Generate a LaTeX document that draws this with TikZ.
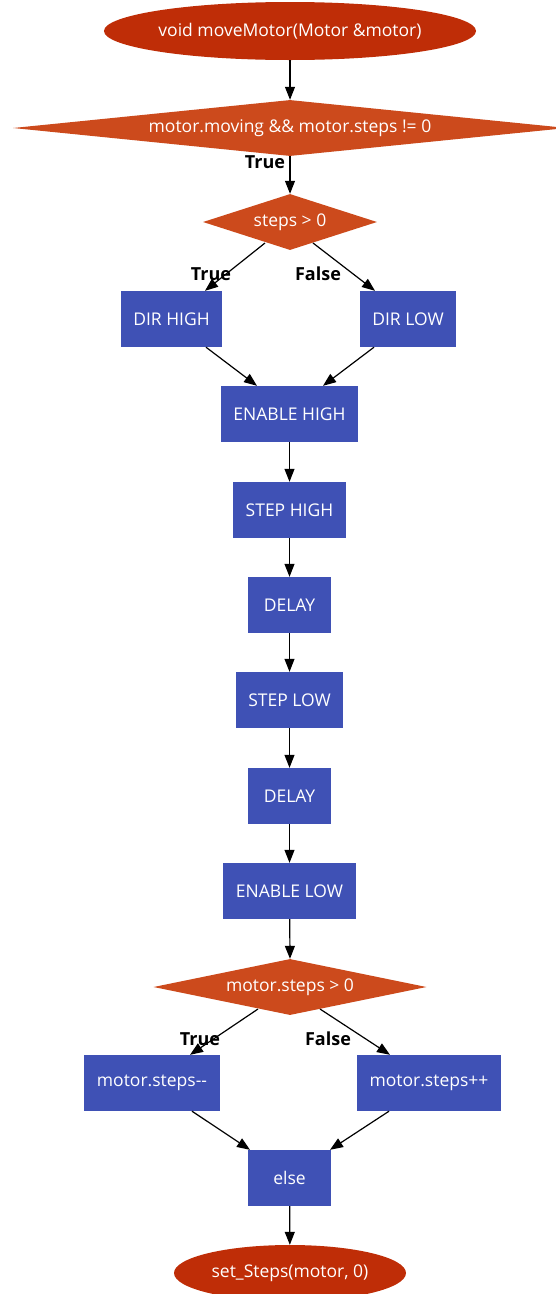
\documentclass[tikz,border=0pt]{standalone}
\usepackage{fontspec}
\setmainfont{Open Sans}
\usetikzlibrary{shapes.geometric,arrows.meta,calc}
\definecolor{termc}{HTML}{BF2D07}
\definecolor{decc}{HTML}{CC4A1C}
\definecolor{boxc}{HTML}{3F51B5}
\tikzset{
  term/.style={ellipse,fill=termc,draw=none,text=white,inner sep=0pt,font=\fontsize{17.5}{20}\selectfont},
  dec/.style={diamond,fill=decc,draw=none,inner sep=0pt},
  dectext/.style={text=white,font=\fontsize{17.5}{20}\selectfont},
  stepbox/.style={rectangle,fill=boxc,draw=none,text=white,inner sep=0pt,minimum height=56pt,font=\fontsize{17.5}{20}\selectfont},
  conn/.style={line width=1.2pt,-{Triangle[length=13pt,width=10pt]}},
  lab/.style={font=\bfseries\fontsize{18}{20}\selectfont,text=black,inner sep=0pt}
}
\begin{document}
\begin{tikzpicture}[x=1pt,y=-1pt]
\useasboundingbox (0,0) rectangle (556,1294);
\clip (0,0) rectangle (556,1294);
\node[term,minimum width=367pt,minimum height=58pt] (start) at (290,31) {void moveMotor(Motor \&motor)};
\node[dec,minimum width=554pt,minimum height=56pt] (d1) at (290,128) {};
\node[dectext] at (d1.center) {motor.moving \&\& motor.steps != 0};
\node[dec,minimum width=174pt,minimum height=56pt] (d2) at (290,222) {};
\node[dectext] at (d2.center) {steps > 0};
\node[stepbox,minimum width=101pt] (dirhigh) at (171.5,319) {DIR HIGH};
\node[stepbox,minimum width=96pt] (dirlow) at (408,319) {DIR LOW};
\node[stepbox,minimum width=137pt] (enhigh) at (289.5,414) {ENABLE HIGH};
\node[stepbox,minimum width=113pt] (stephigh) at (289.5,510) {STEP HIGH};
\node[stepbox,minimum width=83pt] (delay1) at (289.5,605) {DELAY};
\node[stepbox,minimum width=107pt] (steplow) at (289.5,700) {STEP LOW};
\node[stepbox,minimum width=83pt] (delay2) at (289.5,796) {DELAY};
\node[stepbox,minimum width=133pt] (enlow) at (289.5,891) {ENABLE LOW};
\node[dec,minimum width=273pt,minimum height=56pt] (d3) at (290,987) {};
\node[dectext] at (d3.center) {motor.steps > 0};
\node[stepbox,minimum width=136pt] (decr) at (152,1083) {motor.steps-{}-};
\node[stepbox,minimum width=144pt] (incr) at (429,1083) {motor.steps++};
\node[stepbox,minimum width=83pt] (els) at (289.5,1178) {else};
\node[term,minimum width=232pt,minimum height=56pt] (endn) at (290,1273) {set\_Steps(motor, 0)};

\draw[conn] (start) -- (d1.north);
\draw[conn] (d1.south) -- (d2.north);
\draw[conn] ($(d2.center)+(-25,21)$) -- ($(dirhigh.north)+(33.5,0)$);
\draw[conn] ($(d2.center)+(23,21)$) -- ($(dirlow.north)+(-33,0)$);
\draw[conn] ($(dirhigh.south)+(34.5,0)$) -- ($(enhigh.north)+(-32.5,0)$);
\draw[conn] ($(dirlow.south)+(-34,0)$) -- ($(enhigh.north)+(33.5,0)$);
\draw[conn] (enhigh) -- (stephigh);
\draw[conn] (stephigh) -- (delay1);
\draw[conn] (delay1) -- (steplow);
\draw[conn] (steplow) -- (delay2);
\draw[conn] (delay2) -- (enlow);
\draw[conn] (enlow) -- (d3.north);
\draw[conn] ($(d3.center)+(-32,22)$) -- ($(decr.north)+(38,0)$);
\draw[conn] ($(d3.center)+(30,22)$) -- ($(incr.north)+(-39,0)$);
\draw[conn] ($(decr.south)+(40,0)$) -- ($(els.north)+(-39.5,0)$);
\draw[conn] ($(incr.south)+(-40,0)$) -- ($(els.north)+(40.5,0)$);
\draw[conn] (els) -- (endn);

\node[lab] (t1) at (265,162) {True};
\node[lab] (t2) at (211,274) {True};
\node[lab] (f2) at (318,274) {False};
\node[lab] (t3) at (200,1039) {True};
\node[lab] (f3) at (328,1039) {False};
\end{tikzpicture}
\end{document}
